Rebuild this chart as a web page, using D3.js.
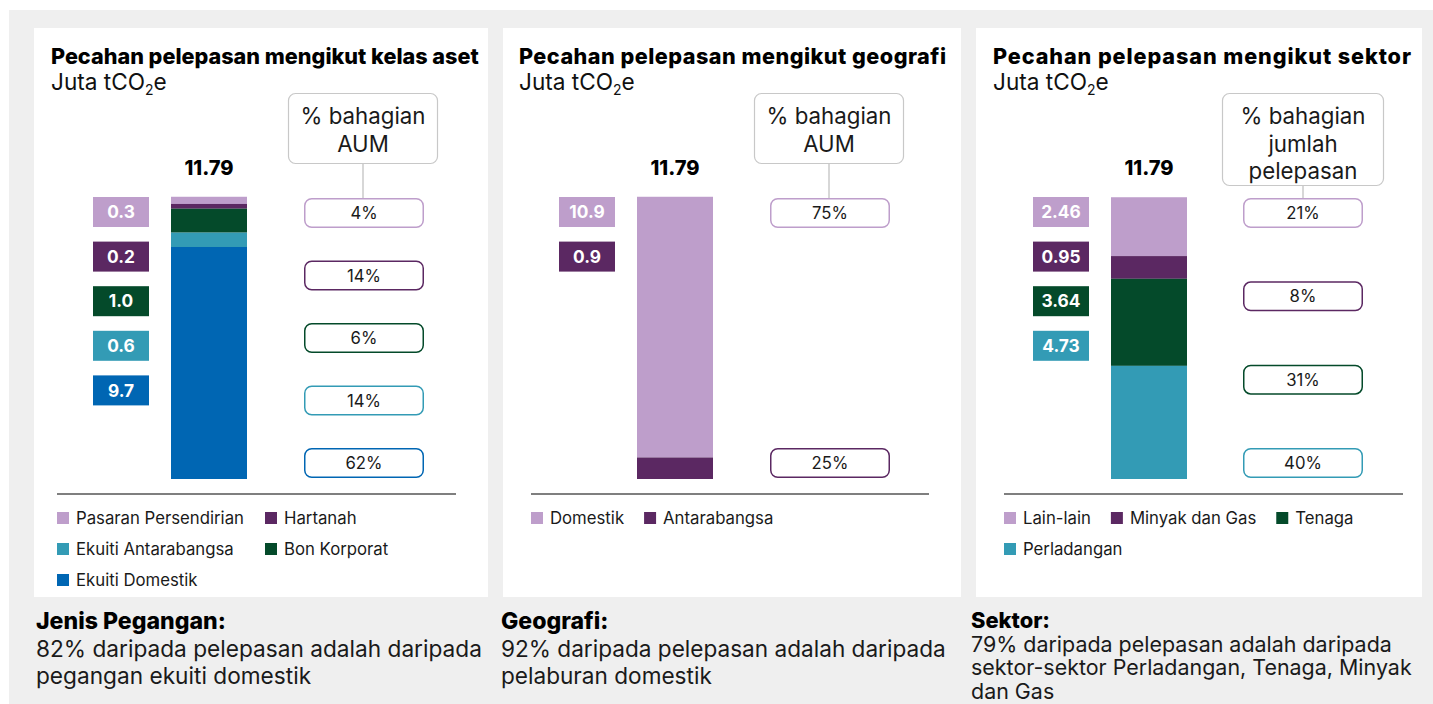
<!DOCTYPE html>
<html>
<head>
<meta charset="utf-8">
<script src="https://cdn.jsdelivr.net/npm/d3@7"></script>
<style>
  html, body { margin: 0; padding: 0; background: #fff; }
  svg { display: block; }
</style>
</head>
<body>
<svg id="chart" width="1433" height="704"></svg>
<script>
// ---------- data ----------
const panelTitles = [
  "Pecahan pelepasan mengikut kelas aset",
  "Pecahan pelepasan mengikut geografi",
  "Pecahan pelepasan mengikut sektor"
];
const unitLabel = ["Juta tCO", "2", "e"];
const totalEmissions = [11.79, 11.79, 11.79];

// stacking order: top segment first
const assetClasses = ["Pasaran Persendirian", "Hartanah", "Bon Korporat", "Ekuiti Antarabangsa", "Ekuiti Domestik"];
const assetEmissions = [0.3, 0.2, 1.0, 0.6, 9.7];
const assetAumShare = [4, 14, 6, 14, 62];
const assetLegend = ["Pasaran Persendirian", "Hartanah", "Ekuiti Antarabangsa", "Bon Korporat", "Ekuiti Domestik"];

const regions = ["Domestik", "Antarabangsa"];
const regionEmissions = [10.9, 0.9];
const regionAumShare = [75, 25];
const regionLegend = ["Domestik", "Antarabangsa"];

const sectors = ["Lain-lain", "Minyak dan Gas", "Tenaga", "Perladangan"];
const sectorEmissions = [2.46, 0.95, 3.64, 4.73];
const sectorShare = [21, 8, 31, 40];
const sectorLegend = ["Lain-lain", "Minyak dan Gas", "Tenaga", "Perladangan"];

const valueFormats = [".1f", ".1f", ".2f"];
const calloutLines = [
  ["% bahagian", "AUM"],
  ["% bahagian", "AUM"],
  ["% bahagian", "jumlah", "pelepasan"]
];
const noteHeads = ["Jenis Pegangan:", "Geografi:", "Sektor:"];
const noteLines = [
  ["82% daripada pelepasan adalah daripada", "pegangan ekuiti domestik"],
  ["92% daripada pelepasan adalah daripada", "pelaburan domestik"],
  ["79% daripada pelepasan adalah daripada", "sektor-sektor Perladangan, Tenaga, Minyak", "dan Gas"]
];

const colorOf = {
  "Pasaran Persendirian": "#be9ecb",
  "Hartanah": "#5b2862",
  "Bon Korporat": "#044a2a",
  "Ekuiti Antarabangsa": "#339bb5",
  "Ekuiti Domestik": "#0066b3",
  "Domestik": "#be9ecb",
  "Antarabangsa": "#5b2862",
  "Lain-lain": "#be9ecb",
  "Minyak dan Gas": "#5b2862",
  "Tenaga": "#044a2a",
  "Perladangan": "#339bb5"
};

const panels = [
  { cats: assetClasses, values: assetEmissions, shares: assetAumShare, legend: assetLegend },
  { cats: regions, values: regionEmissions, shares: regionAumShare, legend: regionLegend },
  { cats: sectors, values: sectorEmissions, shares: sectorShare, legend: sectorLegend }
];

// ---------- layout ----------
const FONT = "Inter, 'Open Sans', sans-serif";
const layout = [
  { card: [34, 28, 454, 569], title: 51, titleW: 428, bar: 171, val: 93, pct: 304, callout: [288, 150, 71], axis: [57, 456], legendCols: [0, 208], note: 36, noteW: 446, noteY: 629, lead: 27.5 },
  { card: [503, 28, 458, 569], title: 519, titleW: 427, bar: 637, val: 559, pct: 770, callout: [754, 150, 71], axis: [531, 929], legendCols: null, note: 501, noteW: 445, noteY: 629, lead: 27.5 },
  { card: [976, 28, 446, 569], title: 993, titleW: 418, bar: 1111, val: 1033, pct: 1243, callout: [1222, 162, 93], axis: [1004, 1403], legendCols: null, note: 971, noteW: 421, noteY: 628, lead: 23.5 }
];
const barW = 76, barTop = 197, barBottom = 479;
const valW = 56, valH = 30, valStep = 44.6;
const pctW = 120, pctH = 30, pctTop = 198, pctBottom = 448;
const calloutTop = 93;
const axisY = 494;
const legendY0 = 518, legendStep = 31;

const svg = d3.select("#chart");

// size a font so a sample string spans a given width
const probe = svg.append("text").attr("font-family", FONT).attr("x", -9999).attr("y", -9999);
function measure(str, weight, size) {
  probe.attr("font-weight", weight).attr("font-size", size).text(str);
  return probe.node().getComputedTextLength();
}
function fitSize(str, weight, target) {
  return 20 * target / measure(str, weight, 20);
}
const sz = {
  title: fitSize(panelTitles[0], 800, 428),
  unit: fitSize(unitLabel[0], 400, 94),
  total: fitSize("11.79", 800, 49),
  value: fitSize("0.95", 700, 39),
  pct: fitSize("62%", 400, 37),
  callout: fitSize("% bahagian", 400, 125),
  legend: fitSize("Pasaran Persendirian", 400, 168),
  noteHead: fitSize(noteHeads[0], 800, 190)
};
const noteSizes = layout.map((L, i) => fitSize(noteLines[i][0], 400, L.noteW));

// page background
svg.append("rect").attr("x", 9).attr("y", 10).attr("width", 1424).attr("height", 694).attr("fill", "#efefef");

panels.forEach((p, pi) => {
  const L = layout[pi];
  const g = svg.append("g");
  const total = totalEmissions[pi];

  // card
  g.append("rect").attr("x", L.card[0]).attr("y", L.card[1]).attr("width", L.card[2]).attr("height", L.card[3]).attr("fill", "#fff");

  // title (spread to the card's title width) and unit
  const natural = measure(panelTitles[pi], 800, sz.title);
  const title = g.append("text").attr("x", L.title).attr("y", 64).attr("font-family", FONT).attr("font-weight", 800)
    .attr("font-size", sz.title).attr("fill", "#000").text(panelTitles[pi]);
  if (Math.abs(natural - L.titleW) > 1) title.attr("textLength", L.titleW).attr("lengthAdjust", "spacing");

  const u = g.append("text").attr("x", L.title).attr("y", 90).attr("font-family", FONT).attr("font-weight", 400)
    .attr("font-size", sz.unit).attr("fill", "#111");
  u.append("tspan").text(unitLabel[0]);
  u.append("tspan").attr("font-size", sz.unit * 0.62).attr("dy", 5).text(unitLabel[1]);
  u.append("tspan").attr("dy", -5).text(unitLabel[2]);

  // stacked bar
  const y = d3.scaleLinear().domain([0, total]).range([barBottom, barTop]);
  const n = p.cats.length;
  const upper = p.values.map((v, i) => d3.sum(p.values.slice(i)));
  const segs = p.cats.map((c, i) => ({ cat: c, y1: upper[i], y0: upper[i] - p.values[i] }));
  g.selectAll("rect.seg").data(segs).join("rect").attr("class", "seg")
    .attr("x", L.bar).attr("width", barW)
    .attr("y", d => y(d.y1)).attr("height", d => y(d.y0) - y(d.y1))
    .attr("fill", d => colorOf[d.cat]);

  // total label
  g.append("text").attr("x", L.bar + barW / 2).attr("y", 175).attr("text-anchor", "middle")
    .attr("font-family", FONT).attr("font-weight", 800).attr("font-size", sz.total).attr("fill", "#000")
    .text(d3.format(".2f")(total));

  // value chips
  const fmt = d3.format(valueFormats[pi]);
  const chips = g.selectAll("g.chip").data(p.cats.map((c, i) => ({ cat: c, v: p.values[i], i })))
    .join("g").attr("class", "chip")
    .attr("transform", d => `translate(${L.val},${barTop + d.i * valStep})`);
  chips.append("rect").attr("width", valW).attr("height", valH).attr("fill", d => colorOf[d.cat]);
  chips.append("text").attr("x", valW / 2).attr("y", valH / 2).attr("dy", "0.36em").attr("text-anchor", "middle")
    .attr("font-family", FONT).attr("font-weight", 700).attr("font-size", sz.value).attr("fill", "#fff")
    .text(d => fmt(d.v));

  // share boxes
  const slot = d3.scalePoint().domain(d3.range(n)).range([pctTop, pctBottom]);
  const boxes = g.selectAll("g.share").data(p.cats.map((c, i) => ({ cat: c, s: p.shares[i], i })))
    .join("g").attr("class", "share")
    .attr("transform", d => `translate(${L.pct},${slot(d.i)})`);
  boxes.append("rect").attr("x", 0.75).attr("y", 0.75).attr("width", pctW - 1.5).attr("height", pctH - 1.5)
    .attr("rx", 7).attr("fill", "#fff").attr("stroke", d => colorOf[d.cat]).attr("stroke-width", 1.5);
  boxes.append("text").attr("x", pctW / 2).attr("y", pctH / 2).attr("dy", "0.36em").attr("text-anchor", "middle")
    .attr("font-family", FONT).attr("font-weight", 400).attr("font-size", sz.pct).attr("fill", "#1a1a1a")
    .text(d => d.s + "%");

  // callout header
  const [cx, cw, ch] = L.callout;
  const ccx = cx + cw / 2;
  g.append("line").attr("x1", ccx).attr("x2", ccx).attr("y1", calloutTop + ch).attr("y2", pctTop)
    .attr("stroke", "#bdbdbd").attr("stroke-width", 1.2);
  g.append("rect").attr("x", cx + 0.5).attr("y", calloutTop + 0.5).attr("width", cw - 1).attr("height", ch - 1)
    .attr("rx", 7).attr("fill", "#fff").attr("stroke", "#c8c8c8").attr("stroke-width", 1.2);
  calloutLines[pi].forEach((t, li) => {
    g.append("text").attr("x", ccx).attr("y", 124 + li * 27.5).attr("text-anchor", "middle")
      .attr("font-family", FONT).attr("font-weight", 400).attr("font-size", sz.callout).attr("fill", "#1a1a1a")
      .text(t);
  });

  // baseline
  g.append("line").attr("x1", L.axis[0]).attr("x2", L.axis[1]).attr("y1", axisY).attr("y2", axisY)
    .attr("stroke", "#555").attr("stroke-width", 1.6);

  // legend
  const lg = g.append("g");
  let lx = 0, row = 0;
  p.legend.forEach((c, i) => {
    const item = lg.append("g");
    item.append("rect").attr("width", 12).attr("height", 12).attr("y", -6).attr("fill", colorOf[c]);
    const t = item.append("text").attr("x", 19).attr("y", 0).attr("dy", "0.35em")
      .attr("font-family", FONT).attr("font-weight", 400).attr("font-size", sz.legend).attr("fill", "#1a1a1a").text(c);
    const w = 19 + t.node().getComputedTextLength();
    let ix, r;
    if (L.legendCols) {
      ix = L.legendCols[i % L.legendCols.length];
      r = Math.floor(i / L.legendCols.length);
    } else {
      if (lx > 0 && L.axis[0] + lx + w > L.axis[1]) { lx = 0; row += 1; }
      ix = lx; r = row;
      lx += w + 20;
    }
    item.attr("transform", `translate(${L.axis[0] + ix},${legendY0 + r * legendStep})`);
  });

  // note under the card
  g.append("text").attr("x", L.note).attr("y", L.noteY).attr("font-family", FONT).attr("font-weight", 800)
    .attr("font-size", sz.noteHead * noteSizes[pi] / noteSizes[0]).attr("fill", "#000").text(noteHeads[pi]);
  noteLines[pi].forEach((t, li) => {
    g.append("text").attr("x", L.note).attr("y", L.noteY + L.lead * (li + 1)).attr("font-family", FONT)
      .attr("font-weight", 400).attr("font-size", noteSizes[pi]).attr("fill", "#1a1a1a").text(t);
  });
});
probe.remove();
</script>
</body>
</html>
